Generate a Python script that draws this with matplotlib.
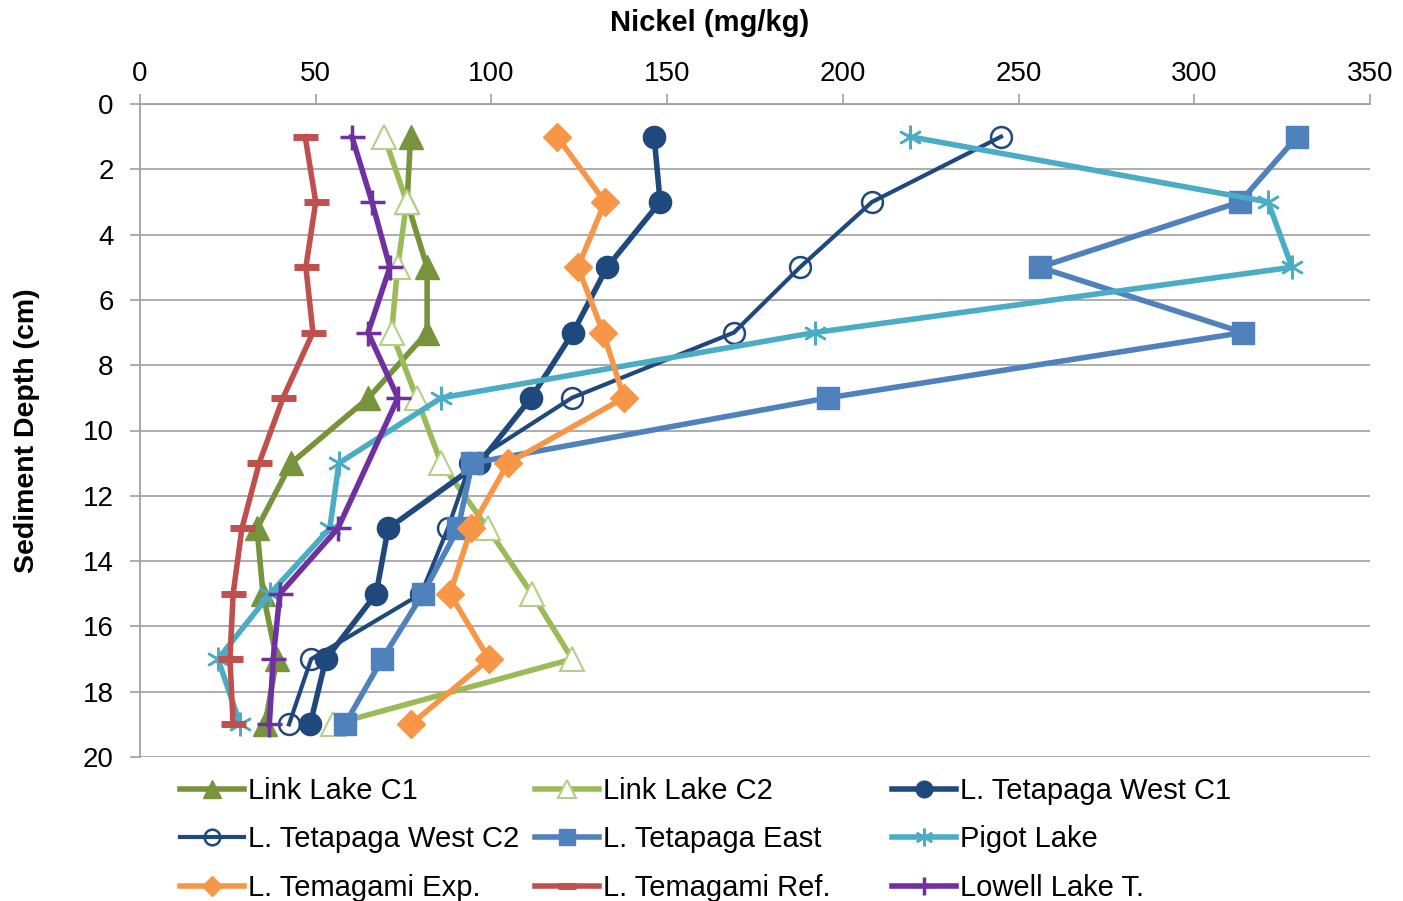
import matplotlib
matplotlib.use("Agg")
import matplotlib.pyplot as plt
import numpy as np

plt.rcParams['font.family'] = ['Liberation Sans', 'DejaVu Sans']

# sediment depth (cm) of each slice
depth = [1, 3, 5, 7, 9, 11, 13, 15, 17, 19]

# nickel concentration (mg/kg) per core
link_c1 = [77, 76, 81.7, 81.7, 65, 43, 33.3, 35, 38.9, 35.6]
link_c2 = [69.5, 75.9, 73.3, 71.6, 78.7, 85.7, 99, 111.5, 123, 55]
tet_west_c1 = [146.3, 148, 132.9, 123.2, 111.3, 96.5, 70.6, 67.2, 52.9, 48.4]
tet_west_c2 = [245, 208.3, 187.8, 169, 122.9, 94, 87.6, 80, 48.7, 42.4]
tet_east = [329.3, 313, 256, 313.9, 195.8, 94.5, 90.5, 80.5, 68.9, 58.3]
pigot = [219, 321, 327.8, 192, 85.7, 56.6, 54, 37, 22.2, 28.5]
tem_exp = [118.7, 132.3, 124.6, 131.8, 137.7, 104.7, 94.2, 88.2, 99.3, 77.1]
tem_ref = [47, 50, 47.2, 49.2, 40.7, 33.9, 29, 26.5, 25.6, 26.5]
lowell = [60.3, 66, 71.1, 64.9, 73.4, None, 56.3, 39.8, 37.9, 36.8]

series = [
    ("Link Lake C1", link_c1, "#77933C", dict(marker="^", ms=17)),
    ("Link Lake C2", link_c2, "#9BBB59", dict(marker="^", ms=17, mfc="white", mec="#B5CF8A", mew=1.5)),
    ("L. Tetapaga West C1", tet_west_c1, "#1F497D", dict(marker="o", ms=16)),
    ("L. Tetapaga West C2", tet_west_c2, "#1F497D", dict(marker="o", ms=15, mfc="none", mew=1.8, lw=3)),
    ("L. Tetapaga East", tet_east, "#4F81BD", dict(marker="s", ms=16)),
    ("Pigot Lake", pigot, "#4BACC6", dict(marker=(6, 2, 0), ms=17, mew=1.8)),
    ("L. Temagami Exp.", tem_exp, "#F79646", dict(marker="D", ms=14)),
    ("L. Temagami Ref.", tem_ref, "#C0504D", dict(marker="_", ms=18, mew=5)),
    ("Lowell Lake T.", lowell, "#7030A0", dict(marker="+", ms=18, mew=2.5)),
]

W, H = 1403, 901
fig = plt.figure(figsize=(W / 100, H / 100), dpi=100)
ax = fig.add_axes([140 / W, 1 - 757 / H, 1230 / W, 653 / H])

lines = {}
for name, vals, col, style in series:
    x = np.array([np.nan if v is None else v for v in vals], dtype=float)
    keep = ~np.isnan(x)
    kw = dict(color=col, lw=4, label=name)
    kw.update(style)
    lines[name], = ax.plot(x[keep], np.array(depth)[keep], **kw)

ax.set_xlim(0, 350)
ax.set_ylim(20, 0)
ax.set_xticks(np.arange(0, 351, 50))
ax.set_yticks(np.arange(0, 21, 2))
ax.xaxis.tick_top()
ax.xaxis.set_label_position("top")
ax.set_xlabel("Nickel (mg/kg)", fontsize=21, fontweight="bold")
ax.set_ylabel("Sediment Depth (cm)", fontsize=20.5, fontweight="bold")
ax.xaxis.set_label_coords(0.463, 1.112)
ax.yaxis.set_label_coords(-0.081, 0.5)
ax.tick_params(axis="both", labelsize=20, color="#A0A0A0", length=7, width=1.2)
ax.tick_params(axis="x", pad=5.5)
ax.tick_params(axis="y", pad=12)

ax.grid(axis="y", color="#A6A6A6", lw=1.3)
ax.set_axisbelow(True)
for side in ("right", "bottom"):
    ax.spines[side].set_visible(False)
for side in ("top", "left"):
    ax.spines[side].set_color("#A0A0A0")
    ax.spines[side].set_linewidth(1.3)

# legend laid out as three fixed-width columns, filled row by row
names = [s[0] for s in series]
col_x = [180, 535, 892]
for i, x0 in enumerate(col_x):
    hs = [lines[n] for n in names[i::3]]
    fig.legend(handles=hs, loc="upper left", bbox_to_anchor=(x0 / W, 1 - 777 / H),
               frameon=False, fontsize=21, handlelength=2.2, handletextpad=0.12,
               labelspacing=0.7, borderpad=0, borderaxespad=0, markerscale=0.75)

fig.savefig("out.png", dpi=100)
